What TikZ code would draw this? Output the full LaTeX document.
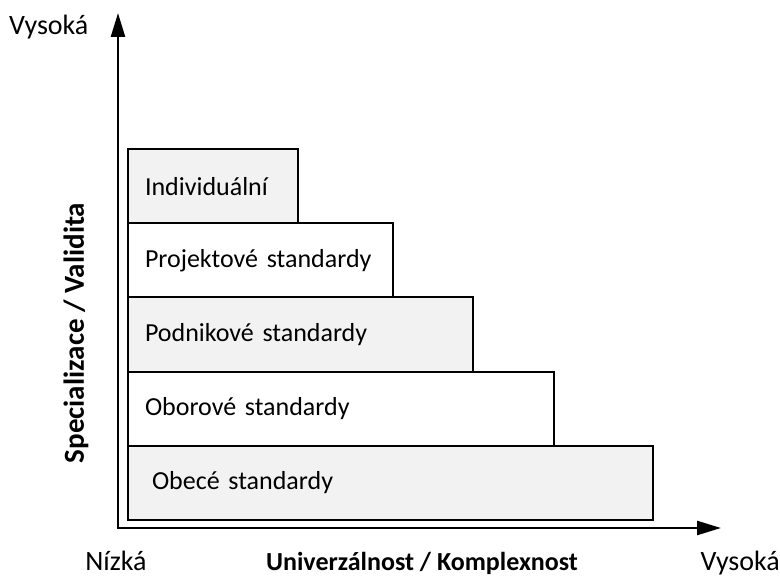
\documentclass[tikz,border=0pt]{standalone}
\usepackage{fontspec}
\setmainfont{Carlito}
\usetikzlibrary{arrows.meta}
\definecolor{boxgrey}{HTML}{F2F2F2}
\tikzset{
  level/.style={draw=black, line width=2pt, anchor=north west, minimum height=74.2pt,
    inner xsep=17pt, inner ysep=0pt, align=left, font=\fontsize{26}{30}\selectfont},
  axis/.style={line width=2.5pt, -{Triangle[length=24pt,width=14pt]}},
  axislabel/.style={font=\fontsize{28}{32}\selectfont, inner sep=0pt},
  axistitle/.style={font=\bfseries\fontsize{26}{30}\selectfont, inner sep=0pt},
}
\begin{document}
\begin{tikzpicture}[x=1pt, y=-1pt]
\useasboundingbox (0,0) rectangle (780,578);
% levels, widest at the bottom
\node[level, fill=boxgrey, minimum width=525pt, inner xsep=24pt, text width=477pt] (obecne) at (127,444.8) {Obecé standardy};
\node[level, fill=white, minimum width=426pt, text width=392pt] (oborove) at (127,370.6) {Oborové standardy};
\node[level, fill=boxgrey, minimum width=345pt, text width=311pt] (podnikove) at (127,296.4) {Podnikové standardy};
\node[level, fill=white, minimum width=265pt, text width=231pt] (projektove) at (127,222.2) {Projektové standardy};
\node[level, fill=boxgrey, minimum width=170pt, text width=136pt] (individualni) at (127,148) {Individuální};
% axes
\coordinate (origin) at (118,528);
\coordinate (ytop) at (118,13);
\coordinate (xend) at (721,528);
\draw[axis, line cap=rect] (origin) -- (ytop);
\draw[axis] (origin) -- (xend);
% axis labels
\node[axislabel, anchor=base west] (yhigh) at (9,35) {Vysoká};
\node[axislabel, anchor=base] (xlow) at (116,570.5) {Nízká};
\node[axislabel, anchor=base east] (xhigh) at (780,570.5) {Vysoká};
\node[axistitle, anchor=base] (xtitle) at (422,570.5) {Univerzálnost / Komplexnost};
\node[axistitle, font=\bfseries\fontsize{29}{33}\selectfont, rotate=90] (ytitle) at (76,333) {Specializace / Validita};
\end{tikzpicture}
\end{document}
